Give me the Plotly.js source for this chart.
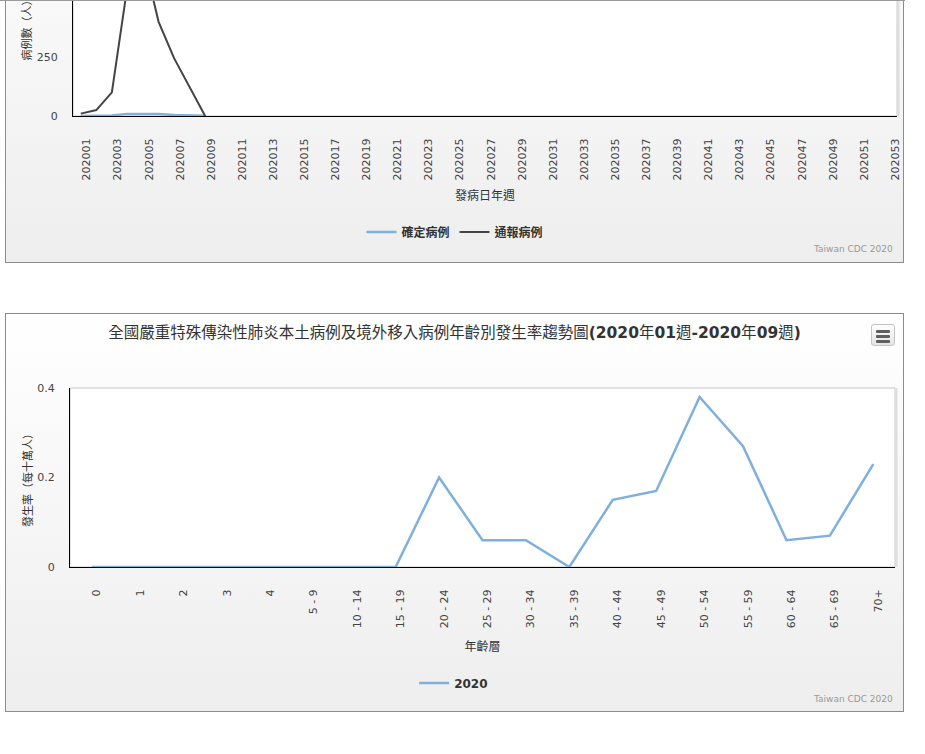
<!DOCTYPE html>
<html><head><meta charset="utf-8">
<script src="https://cdn.plot.ly/plotly-3.0.1.min.js"></script>
<style>
html,body{margin:0;padding:0;background:#fff;width:925px;height:754px;overflow:hidden;position:relative;}
.box{position:absolute;left:5px;width:899px;box-sizing:border-box;border:1px solid #8c8c8c;background:linear-gradient(to bottom,#ffffff 0%,#f7f7f7 45%,#eeeeee 100%);}
#box1{top:-137px;height:400px;}
#box2{top:313px;height:399px;}
#topline{position:absolute;left:0;top:0;width:905px;height:1px;background:#9a9a9a;}
#menu{position:absolute;left:865px;top:10px;width:22px;height:20px;border:1px solid #c4c4c4;border-radius:3px;background:linear-gradient(#ffffff,#e4e4e4);z-index:5;}
#menu span{position:absolute;left:4px;width:14px;height:3px;background:#5f5f5f;border-radius:1px;}
</style></head>
<body>
<div id="box1" class="box"><div id="chart1"></div></div>
<div id="box2" class="box"><div id="chart2"></div><div id="menu"><span style="top:5px"></span><span style="top:10px"></span><span style="top:15px"></span></div></div>
<div id="topline"></div>
<script>
// ---------- data: chart 1 (weekly cases) ----------
const weeks = ['202001','202002','202003','202004','202005','202006','202007','202008','202009','202010',
 '202011','202012','202013','202014','202015','202016','202017','202018','202019','202020',
 '202021','202022','202023','202024','202025','202026','202027','202028','202029','202030',
 '202031','202032','202033','202034','202035','202036','202037','202038','202039','202040',
 '202041','202042','202043','202044','202045','202046','202047','202048','202049','202050',
 '202051','202052','202053'];
const dataWeeks = ['202001','202002','202003','202004','202005','202006','202007','202008','202009'];
const confirmedCases = [0, 1, 2, 9, 10, 9, 4, 2, 1];
const reportedCases = [10, 25, 100, 550, 680, 400, 245, 120, 0];
const weekTickLabels = weeks.filter((w, i) => i % 2 === 0);
const casesTicks = [0, 250];

// ---------- data: chart 2 (age-specific incidence) ----------
const ageGroups = ['0','1','2','3','4','5 - 9','10 - 14','15 - 19','20 - 24','25 - 29','30 - 34',
 '35 - 39','40 - 44','45 - 49','50 - 54','55 - 59','60 - 64','65 - 69','70+'];
const rate2020 = [0, 0, 0, 0, 0, 0, 0, 0, 0.2, 0.06, 0.06, 0, 0.15, 0.17, 0.38, 0.27, 0.06, 0.07, 0.23];
const rateTicks = [0, 0.2, 0.4];

const FONT = 'DejaVu Sans, "Noto Sans CJK TC", sans-serif';
const BLUE = '#7fb0dd';
const DARK = '#434348';

function baseAxisX(cats, ticks, shift) {
  return {
    type: 'category', categoryorder: 'array', categoryarray: cats,
    range: [-0.5, cats.length - 0.5], tickmode: 'array', tickvals: ticks, ticktext: ticks,
    tickangle: -90, ticks: '', ticklabelstandoff: 17, ticklabelshift: shift,
    tickfont: {family: FONT, size: 11, color: '#444'},
    showline: true, linecolor: '#000', linewidth: 1, showgrid: false, zeroline: false, fixedrange: true
  };
}
function baseAxisY(range, ticks, title) {
  return {
    range: range, tickmode: 'array', tickvals: ticks, ticks: '', ticklabelstandoff: 12,
    tickfont: {family: FONT, size: 11, color: '#444'},
    title: {text: title, font: {family: FONT, size: 11, color: '#333'}, standoff: 2},
    showline: true, linecolor: '#000', linewidth: 1, showgrid: false, zeroline: false, fixedrange: true
  };
}
function frameShapes() {
  return [
    {type: 'rect', xref: 'paper', yref: 'paper', x0: 0, x1: 1, y0: 0, y1: 1, line: {color: '#c8c8c8', width: 1}, layer: 'below'},
    {type: 'line', xref: 'paper', yref: 'paper', x0: 1.0018, x1: 1.0018, y0: 0, y1: 1, line: {color: '#dedede', width: 2}}
  ];
}

// ---------- chart 1 ----------
const x1 = baseAxisX(weeks, weekTickLabels, 6);
x1.title = {text: '發病日年週', font: {family: FONT, size: 12, color: '#333'}, standoff: 12};
const layout1 = {
  width: 897, height: 398,
  margin: {l: 67, r: 6, t: 75, b: 146},
  paper_bgcolor: 'rgba(0,0,0,0)', plot_bgcolor: '#ffffff',
  font: {family: FONT, color: '#333'},
  xaxis: x1,
  yaxis: baseAxisY([0, 750], casesTicks, '病例數（人）'),
  showlegend: true,
  legend: {orientation: 'h', x: 0.4636, xanchor: 'center', y: -0.655, yanchor: 'middle',
           font: {family: FONT, size: 12, color: '#333', weight: 'bold'}, bgcolor: 'rgba(0,0,0,0)'},
  shapes: frameShapes(),
  annotations: [{text: 'Taiwan CDC 2020', xref: 'paper', yref: 'paper', x: 1, y: -0.751, xanchor: 'right', yanchor: 'middle',
                 xshift: -2, showarrow: false, font: {family: FONT, size: 9, color: '#999'}}]
};
const traces1 = [
  {type: 'scatter', mode: 'lines', name: '確定病例', x: dataWeeks, y: confirmedCases, line: {color: BLUE, width: 2.5}},
  {type: 'scatter', mode: 'lines', name: '通報病例', x: dataWeeks, y: reportedCases, line: {color: DARK, width: 2}}
];
Plotly.newPlot('chart1', traces1, layout1, {displayModeBar: false, staticPlot: true});

// ---------- chart 2 ----------
const x2 = baseAxisX(ageGroups, ageGroups, 5);
x2.title = {text: '年齡層', font: {family: FONT, size: 12, color: '#333'}, standoff: 15};
const layout2 = {
  width: 897, height: 397,
  margin: {l: 64, r: 8, t: 74, b: 144},
  paper_bgcolor: 'rgba(0,0,0,0)', plot_bgcolor: '#ffffff',
  font: {family: FONT, color: '#333'},
  title: {text: '全國嚴重特殊傳染性肺炎本土病例及境外移入病例年齡別發生率趨勢圖<b>(2020</b>年<b>01</b>週<b>-2020</b>年<b>09</b>週<b>)</b>',
          x: 0.5, xref: 'container', xanchor: 'center', y: 0.952, yref: 'container', yanchor: 'middle',
          font: {family: FONT, size: 15.5, color: '#333'}},
  xaxis: x2,
  yaxis: baseAxisY([0, 0.4], rateTicks, '發生率（每十萬人）'),
  showlegend: true,
  legend: {orientation: 'h', x: 0.465, xanchor: 'center', y: -0.648, yanchor: 'middle',
           font: {family: FONT, size: 12, color: '#333', weight: 'bold'}, bgcolor: 'rgba(0,0,0,0)'},
  shapes: frameShapes(),
  annotations: [{text: 'Taiwan CDC 2020', xref: 'paper', yref: 'paper', x: 1, y: -0.737, xanchor: 'right', yanchor: 'middle',
                 showarrow: false, font: {family: FONT, size: 9, color: '#999'}}]
};
const traces2 = [
  {type: 'scatter', mode: 'lines', name: '2020', x: ageGroups, y: rate2020, line: {color: BLUE, width: 2.5}, showlegend: true}
];
Plotly.newPlot('chart2', traces2, layout2, {displayModeBar: false, staticPlot: true});
</script>
</body></html>
